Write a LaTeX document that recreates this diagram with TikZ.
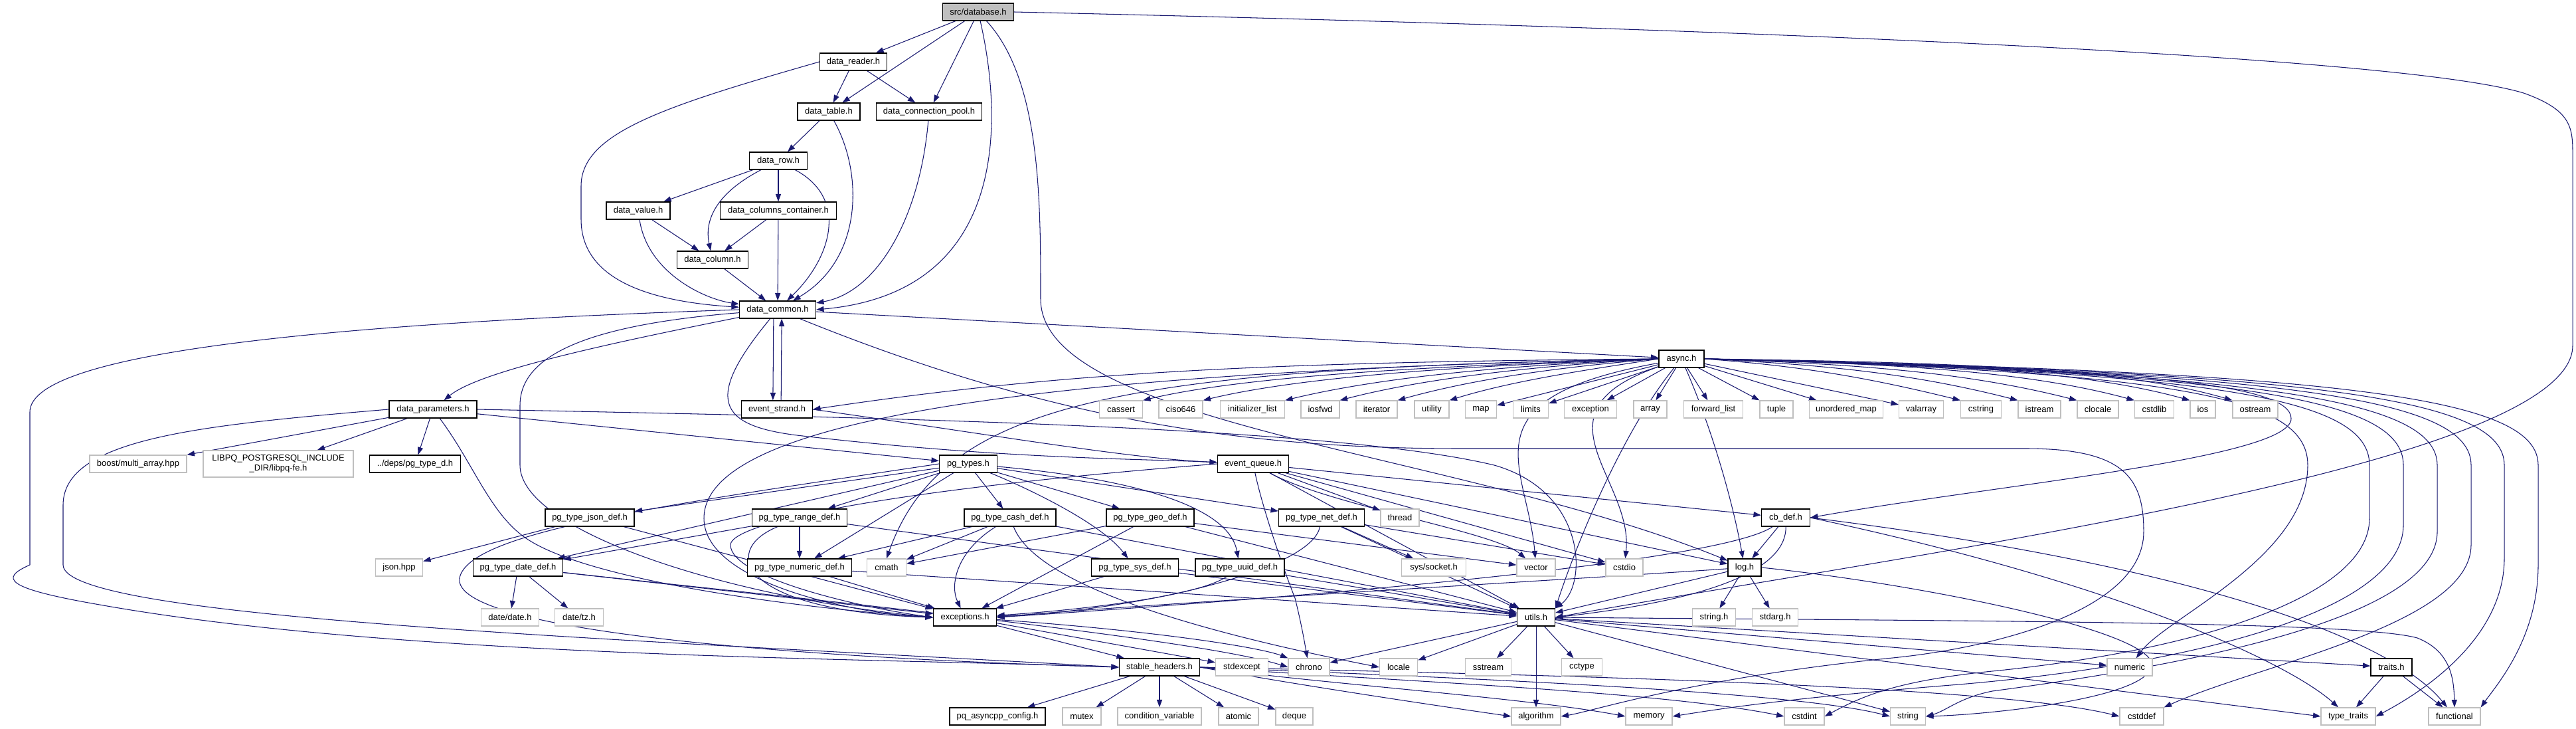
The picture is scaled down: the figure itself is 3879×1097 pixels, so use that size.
\documentclass[tikz,border=0pt]{standalone}
\usepackage{fontspec}
\setmainfont{Liberation Sans}
\usetikzlibrary{arrows.meta}
\definecolor{edgecol}{RGB}{25,25,112}
\definecolor{extgray}{RGB}{191,191,191}
\pgfdeclarelayer{edges}
\pgfsetlayers{edges,main}
\newcommand\nd[6]{\node[#1,minimum width=#5*0.02cm] (#2) at (#3,#4) {#6};}
\begin{document}
\begin{tikzpicture}[x=0.02cm,y=-0.02cm,
 filebox/.style={rectangle,inner sep=0pt,minimum height=0.52cm,font=\fontsize{7.4}{8.6}\selectfont,fill=white},
 fileint/.style={filebox,draw=black,line width=0.7pt},
 fileext/.style={filebox,draw=extgray,line width=0.7pt},
 fileroot/.style={filebox,draw=black,line width=0.7pt,fill=extgray},
 dep/.style={draw=edgecol,line width=0.6pt,-{Triangle[length=6.5pt,width=4.6pt]}}]
\useasboundingbox (0,0) rectangle (3879,1097);
% ---------- nodes ----------
\nd{fileroot}{db}{1473}{18}{107}{src/database.h}
\nd{fileint}{reader}{1285}{93}{101}{data\_reader.h}
\nd{fileint}{table}{1248}{168}{94}{data\_table.h}
\nd{fileint}{pool}{1399}{168}{159}{data\_connection\_pool.h}
\nd{fileint}{row}{1172}{242}{87}{data\_row.h}
\nd{fileint}{value}{961}{317}{96}{data\_value.h}
\nd{fileint}{colcont}{1172}{317}{175}{data\_columns\_container.h}
\nd{fileint}{column}{1073}{391}{107}{data\_column.h}
\nd{fileint}{common}{1171}{466}{115}{data\_common.h}
\nd{fileint}{async}{2532}{540}{68}{async.h}
% row 616
\nd{fileint}{params}{652}{616}{132}{data\_parameters.h}
\nd{fileint}{strand}{1170}{616}{107}{event\_strand.h}
\nd{fileext}{cassert}{1688}{616}{65}{cassert}
\nd{fileext}{ciso}{1778}{616}{66}{ciso646}
\nd{fileext}{initl}{1886}{616}{97}{initializer\_list}
\nd{fileext}{iosfwd}{1988}{616}{58}{iosfwd}
\nd{fileext}{iterator}{2073}{616}{62}{iterator}
\nd{fileext}{utility}{2156}{616}{52}{utility}
\nd{fileext}{map}{2230}{616}{47}{map}
\nd{fileext}{limits}{2305}{616}{53}{limits}
\nd{fileext}{exception}{2395}{616}{79}{exception}
\nd{fileext}{array}{2485}{616}{50}{array}
\nd{fileext}{fwdlist}{2580}{616}{89}{forward\_list}
\nd{fileext}{tuple}{2675}{616}{50}{tuple}
\nd{fileext}{umap}{2780}{616}{111}{unordered\_map}
\nd{fileext}{valarray}{2893}{616}{67}{valarray}
\nd{fileext}{cstring}{2983}{616}{61}{cstring}
\nd{fileext}{istream}{3071}{616}{64}{istream}
\nd{fileext}{clocale}{3159}{616}{62}{clocale}
\nd{fileext}{cstdlib}{3244}{616}{59}{cstdlib}
\nd{fileext}{ios}{3317}{616}{38}{ios}
\nd{fileext}{ostream}{3396}{616}{68}{ostream}
% row 698
\nd{fileext}{boost}{208}{698}{146}{boost/multi\_array.hpp}
\node[fileext,minimum width=226*0.02cm,minimum height=0.8cm,align=center] (libpq) at (419,698) {LIBPQ\_POSTGRESQL\_INCLUDE\\\_DIR/libpq-fe.h};
\nd{fileint}{pgtyped}{625}{698}{137}{../deps/pg\_type\_d.h}
\nd{fileint}{pgtypes}{1458}{698}{87}{pg\_types.h}
\nd{fileint}{evq}{1887}{698}{107}{event\_queue.h}
% row 779
\nd{fileint}{json}{888}{779}{134}{pg\_type\_json\_def.h}
\nd{fileint}{range}{1204}{779}{143}{pg\_type\_range\_def.h}
\nd{fileint}{cash}{1521}{779}{138}{pg\_type\_cash\_def.h}
\nd{fileint}{geo}{1732}{779}{132}{pg\_type\_geo\_def.h}
\nd{fileint}{net}{1990}{779}{129}{pg\_type\_net\_def.h}
\nd{fileext}{thread}{2108}{779}{58}{thread}
\nd{fileint}{cbdef}{2689}{779}{73}{cb\_def.h}
% row 854
\nd{fileext}{jsonhpp}{601}{854}{71}{json.hpp}
\nd{fileint}{date}{780}{854}{135}{pg\_type\_date\_def.h}
\nd{fileint}{numericdef}{1204}{854}{157}{pg\_type\_numeric\_def.h}
\nd{fileext}{cmath}{1335}{854}{59}{cmath}
\nd{fileint}{sys}{1709}{854}{131}{pg\_type\_sys\_def.h}
\nd{fileint}{uuid}{1867}{854}{134}{pg\_type\_uuid\_def.h}
\nd{fileext}{socket}{2159}{854}{97}{sys/socket.h}
\nd{fileext}{vector}{2313}{854}{58}{vector}
\nd{fileext}{cstdio}{2446}{854}{56}{cstdio}
\nd{fileint}{log}{2627}{854}{50}{log.h}
% row 929
\nd{fileext}{datedate}{768}{929}{87}{date/date.h}
\nd{fileext}{datetz}{872}{929}{73}{date/tz.h}
\nd{fileint}{exc}{1453}{929}{95}{exceptions.h}
\nd{fileint}{utils}{2313}{929}{57}{utils.h}
\nd{fileext}{stringh}{2581}{929}{65}{string.h}
\nd{fileext}{stdarg}{2673}{929}{69}{stdarg.h}
% row 1004
\nd{fileint}{stable}{1746}{1004}{121}{stable\_headers.h}
\nd{fileext}{stdexcept}{1870}{1004}{79}{stdexcept}
\nd{fileext}{chrono}{1971}{1004}{62}{chrono}
\nd{fileext}{locale}{2106}{1004}{57}{locale}
\nd{fileext}{sstream}{2241}{1004}{69}{sstream}
\nd{fileext}{cctype}{2382}{1004}{61}{cctype}
\nd{fileext}{numeric}{3207}{1004}{68}{numeric}
\nd{fileint}{traits}{3601}{1004}{62}{traits.h}
% row 1078
\nd{fileint}{config}{1502}{1078}{144}{pq\_asyncpp\_config.h}
\nd{fileext}{mutex}{1629}{1078}{58}{mutex}
\nd{fileext}{condvar}{1746}{1078}{126}{condition\_variable}
\nd{fileext}{atomic}{1865}{1078}{60}{atomic}
\nd{fileext}{deque}{1949}{1078}{56}{deque}
\nd{fileext}{algorithm}{2313}{1078}{74}{algorithm}
\nd{fileext}{memory}{2483}{1078}{70}{memory}
\nd{fileext}{cstdint}{2717}{1078}{60}{cstdint}
\nd{fileext}{string}{2873}{1078}{53}{string}
\nd{fileext}{cstddef}{3225}{1078}{66}{cstddef}
\nd{fileext}{typetraits}{3536}{1078}{82}{type\_traits}
\nd{fileext}{functional}{3696}{1078}{78}{functional}
% ---------- edges ----------
\begin{pgfonlayer}{edges}
% database.h
\draw[dep] (db) -- (reader);
\draw[dep] (db) -- (table);
\draw[dep] (db) -- (pool);
\draw[dep] (db) .. controls (1510,180) and (1520,440) .. (common.east);
\draw[dep] (db) .. controls (1567,120) and (1567,300) .. (1567,450) .. controls (1567,640) and (2200,680) .. (log);
\draw[dep] (db.east) .. controls (2500,40) and (3600,80) .. (3800,140) .. controls (3870,165) and (3874,190) .. (3874,230) -- (3874,520) .. controls (3874,700) and (2900,830) .. (utils.east);
% data_reader.h etc.
\draw[dep] (reader) -- (table);
\draw[dep] (reader) -- (pool);
\draw[dep] (reader.west) .. controls (1000,160) and (875,200) .. (875,280) -- (875,330) .. controls (875,430) and (1000,455) .. (common);
\draw[dep] (table) -- (row);
\draw[dep] (table) .. controls (1300,260) and (1300,390) .. (common);
\draw[dep] (pool) .. controls (1385,330) and (1320,440) .. (common);
\draw[dep] (row) -- (value);
\draw[dep] (row) -- (colcont);
\draw[dep] (row) .. controls (1080,290) and (1060,330) .. (column);
\draw[dep] (row) .. controls (1280,300) and (1250,390) .. (common);
\draw[dep] (value) -- (column);
\draw[dep] (value) .. controls (975,410) and (1060,450) .. (common);
\draw[dep] (colcont) -- (column);
\draw[dep] (colcont) -- (common);
\draw[dep] (column) -- (common);
% data_common.h
\draw[dep] (common) -- (async);
\draw[dep] ([xshift=-3.5pt]common.south) -- ([xshift=-3.5pt]strand.north);
\draw[dep] ([xshift=3.5pt]strand.north) -- ([xshift=3.5pt]common.south);
\draw[dep] (common) .. controls (900,520) and (720,560) .. (params);
\draw[dep] (common.west) .. controls (400,490) and (45,540) .. (45,620) -- (45,850) .. controls (0,870) and (5,885) .. (150,910) .. controls (600,990) and (1300,990) .. (stable.west);
\draw[dep] (common) .. controls (870,490) and (783,540) .. (783,610) -- (783,700) .. controls (783,800) and (1100,900) .. (exc.west);
\draw[dep] (common) .. controls (1060,600) and (1080,640) .. (1200,655) .. controls (1500,690) and (1700,690) .. (evq);
\draw[dep] (common) .. controls (1600,640) and (1900,675) .. (2200,675) -- (3050,675) .. controls (3200,675) and (3228,720) .. (3228,800) .. controls (3228,920) and (3000,975) .. (2850,990) .. controls (2550,1020) and (2400,1070) .. (algorithm.east);
\draw[dep] (strand.east) .. controls (1500,655) and (1700,690) .. (evq);
% data_parameters.h
\draw[dep] (params) -- (boost);
\draw[dep] (params) -- (libpq);
\draw[dep] (params) -- (pgtyped);
\draw[dep] (params) -- (pgtypes);
\draw[dep] (params.east) .. controls (1300,628) and (2000,640) .. (2250,700) .. controls (2390,740) and (2390,880) .. (utils.north east);
\draw[dep] (params) .. controls (715,700) and (740,780) .. (800,815) .. controls (900,875) and (1200,915) .. (exc.west);
\draw[dep] (params.west) .. controls (300,640) and (95,660) .. (95,760) -- (95,850) .. controls (95,930) and (900,960) .. (stable.west);
% pg_types.h
\draw[dep] (pgtypes) -- (json);
\draw[dep] (pgtypes) -- (date);
\draw[dep] (pgtypes) -- (range);
\draw[dep] (pgtypes) -- (numericdef);
\draw[dep] (pgtypes) -- (cash);
\draw[dep] (pgtypes) -- (geo);
\draw[dep] (pgtypes) .. controls (1560,740) and (1660,790) .. (sys);
\draw[dep] (pgtypes) .. controls (1700,720) and (1850,760) .. (uuid);
\draw[dep] (pgtypes) -- (net);
\draw[dep] (pgtypes.west) .. controls (1000,760) and (705,800) .. (692,870) .. controls (680,950) and (1200,990) .. (stable.west);
% pg type defs
\draw[dep] (range) -- (numericdef);
\draw[dep] (range) -- (date);
\draw[dep] (range) .. controls (1080,830) and (1120,920) .. (exc.west);
\draw[dep] (range) -- (utils);
\draw[dep] (cash) -- (numericdef);
\draw[dep] (cash) -- (cmath);
\draw[dep] (cash) .. controls (1440,830) and (1430,880) .. (exc);
\draw[dep] (cash) -- (utils);
\draw[dep] (cash) .. controls (1560,880) and (1800,950) .. (locale.west);
\draw[dep] (geo) -- (cmath);
\draw[dep] (geo) -- (exc);
\draw[dep] (geo) -- (utils);
\draw[dep] (geo) -- (vector);
\draw[dep] (sys) -- (exc);
\draw[dep] (sys) -- (utils);
\draw[dep] (uuid) .. controls (1800,900) and (1600,920) .. (exc);
\draw[dep] (uuid) -- (utils);
\draw[dep] (numericdef) -- (exc);
\draw[dep] (numericdef) -- (utils);
\draw[dep] (net) -- (socket);
\draw[dep] (net) -- (cstdio);
\draw[dep] (net) -- (utils);
\draw[dep] (net) .. controls (1975,860) and (1700,920) .. (exc);
\draw[dep] (json) -- (jsonhpp);
\draw[dep] (json) -- (exc);
\draw[dep] (date) -- (datedate);
\draw[dep] (date) -- (datetz);
\draw[dep] (date) -- (exc);
\draw[dep] (date) .. controls (1200,900) and (1800,960) .. (chrono.west);
% event_queue.h
\draw[dep] (evq) -- (thread);
\draw[dep] (evq) .. controls (2000,760) and (2250,800) .. (vector);
\draw[dep] (evq) -- (cstdio);
\draw[dep] (evq) -- (log);
\draw[dep] (evq) -- (cbdef);
\draw[dep] (evq) -- (utils);
\draw[dep] (evq.west) .. controls (1300,740) and (1100,790) .. (1100,820) .. controls (1100,870) and (1300,915) .. (exc.west);
\draw[dep] (evq) .. controls (1900,760) and (1930,850) .. (1950,900) .. controls (1960,940) and (1965,970) .. (chrono);
% cb_def.h
\draw[dep] (cbdef) -- (log);
\draw[dep] (cbdef) .. controls (2690,850) and (2600,900) .. (utils.east);
\draw[dep] (cbdef) .. controls (2600,840) and (2100,890) .. (exc.east);
\draw[dep] (cbdef.east) .. controls (3300,850) and (3600,960) .. (functional);
\draw[dep] (cbdef.east) .. controls (3200,880) and (3450,1000) .. (typetraits);
% log.h
\draw[dep] (log) -- (utils);
\draw[dep] (log) -- (stringh);
\draw[dep] (log) -- (stdarg);
\draw[dep] (log) .. controls (2400,870) and (1700,910) .. (exc.east);
\draw[dep] (log.east) .. controls (2900,880) and (3240,950) .. (3240,1000) .. controls (3240,1050) and (3000,1075) .. (string.east);
% utils.h
\draw[dep] (utils) -- (chrono);
\draw[dep] (utils) -- (locale);
\draw[dep] (utils) -- (sstream);
\draw[dep] (utils) -- (cctype);
\draw[dep] (utils) -- (algorithm);
\draw[dep] (utils) -- (string);
\draw[dep] (utils) -- (numeric);
\draw[dep] (utils) -- (traits);
\draw[dep] (utils) -- (typetraits.west);
\draw[dep] (utils.east) .. controls (3000,935) and (3550,935) .. (3640,960) .. controls (3690,980) and (3695,1020) .. (functional.north);
\draw[dep] (traits) -- (typetraits);
\draw[dep] (traits) -- (functional);
% exceptions.h
\draw[dep] (exc) -- (stable);
\draw[dep] (exc) -- (stdexcept);
\draw[dep] (exc) .. controls (1750,950) and (1900,975) .. (chrono.north west);
% stable_headers.h
\draw[dep] (stable) -- (config);
\draw[dep] (stable) -- (mutex);
\draw[dep] (stable) -- (condvar);
\draw[dep] (stable) -- (atomic);
\draw[dep] (stable) -- (deque);
\draw[dep] (stable.east) .. controls (1950,1030) and (2150,1060) .. (algorithm.west);
\draw[dep] (stable.east) .. controls (2000,1030) and (2300,1050) .. (memory.west);
\draw[dep] (stable.east) .. controls (2100,1025) and (2500,1040) .. (cstdint.west);
\draw[dep] (stable.east) .. controls (2200,1020) and (2700,1040) .. (string.west);
\draw[dep] (stable.east) .. controls (2300,1015) and (3000,1030) .. (cstddef.west);
% async.h fan
\draw[dep] (async.west) .. controls (1900,545) and (1600,560) .. (strand.east);
\draw[dep] (async.west) .. controls (2250,548) and (1900,560) .. (cassert.north east);
\draw[dep] (async.west) .. controls (2270,548) and (1980,562) .. (ciso.north east);
\draw[dep] (async.west) .. controls (2290,549) and (2090,565) .. (initl.north east);
\draw[dep] (async.west) .. controls (2320,550) and (2150,568) .. (iosfwd.north east);
\draw[dep] (async.west) .. controls (2350,552) and (2220,570) .. (iterator.north east);
\draw[dep] (async.west) .. controls (2400,555) and (2280,572) .. (utility.north east);
\draw[dep] (async) -- (map);
\draw[dep] (async) -- (limits);
\draw[dep] (async) -- (exception);
\draw[dep] (async) -- (array);
\draw[dep] (async) -- (fwdlist);
\draw[dep] (async) -- (tuple);
\draw[dep] (async) -- (umap);
\draw[dep] (async) -- (valarray);
\draw[dep] (async.east) .. controls (2700,550) and (2800,565) .. (cstring.north west);
\draw[dep] (async.east) .. controls (2750,549) and (2880,562) .. (istream.north west);
\draw[dep] (async.east) .. controls (2800,548) and (2960,560) .. (clocale.north west);
\draw[dep] (async.east) .. controls (2850,547) and (3050,558) .. (cstdlib.north west);
\draw[dep] (async.east) .. controls (2900,546) and (3130,556) .. (ios.north west);
\draw[dep] (async.east) .. controls (2950,545) and (3200,555) .. (ostream.north west);
\draw[dep] (async.west) .. controls (1700,555) and (1420,600) .. (cmath.north);
\draw[dep] (async.west) .. controls (1500,560) and (1060,640) .. (1060,780) .. controls (1060,880) and (1300,925) .. (exc.west);
\draw[dep] (async) .. controls (2300,620) and (2460,720) .. (cstdio);
\draw[dep] (async) .. controls (2200,600) and (2300,700) .. (vector);
\draw[dep] (async) .. controls (2450,640) and (2380,800) .. (utils.north east);
\draw[dep] (async) .. controls (2580,650) and (2610,760) .. (log);
\draw[dep] (async.east) .. controls (3250,555) and (3450,580) .. (3450,630) .. controls (3450,690) and (3000,730) .. (cbdef.east);
\draw[dep] (async.east) .. controls (3300,560) and (3475,600) .. (3475,700) .. controls (3475,840) and (3260,930) .. (numeric);
\draw[dep] (async.east) .. controls (3350,560) and (3568,600) .. (3568,700) -- (3568,780) .. controls (3568,900) and (3300,980) .. (3000,1010) .. controls (2850,1025) and (2800,1050) .. (cstdint.east);
\draw[dep] (async.east) .. controls (3380,560) and (3619,600) .. (3619,700) -- (3619,790) .. controls (3619,920) and (3300,1000) .. (2950,1030) .. controls (2700,1050) and (2600,1065) .. (memory.east);
\draw[dep] (async.east) .. controls (3400,560) and (3670,600) .. (3670,700) -- (3670,800) .. controls (3670,930) and (3300,1000) .. (3000,1040) .. controls (2950,1050) and (2930,1070) .. (string.east);
\draw[dep] (async.east) .. controls (3450,560) and (3721,600) .. (3721,700) -- (3721,820) .. controls (3721,940) and (3400,1000) .. (cstddef.north east);
\draw[dep] (async.east) .. controls (3500,560) and (3771,600) .. (3771,700) -- (3771,840) .. controls (3771,960) and (3650,1040) .. (typetraits.east);
\draw[dep] (async.east) .. controls (3550,560) and (3822,600) .. (3822,700) -- (3822,850) .. controls (3822,960) and (3760,1030) .. (functional.north east);
\end{pgfonlayer}
\end{tikzpicture}
\end{document}
